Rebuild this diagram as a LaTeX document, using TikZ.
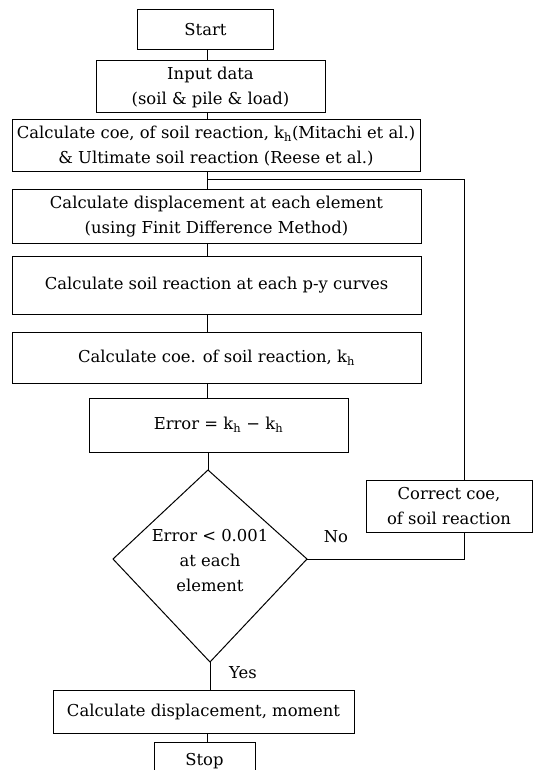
\documentclass[tikz,border=0pt]{standalone}
\usepackage{fontspec}
\setmainfont{DejaVu Serif}
\newcommand\fcfont{\fontsize{16.4}{25}\selectfont}
\begin{document}
\begin{tikzpicture}[x=1pt,y=-1pt,line width=1pt,
  box/.style={draw, align=center, inner sep=0pt, font=\fcfont},
  lbl/.style={inner sep=0pt, font=\fcfont}]
\useasboundingbox (0,0) rectangle (539,770);
% nodes
\node[box, minimum width=136pt, minimum height=40pt] (start) at (205.5,29.7) {Start};
\node[box, minimum width=229pt, minimum height=52pt] (input) at (210.5,87) {Input data\\(soil \& pile \& load)};
\node[box, minimum width=408pt, minimum height=52pt] (calc1) at (216,146) {Calculate coe, of soil reaction, k\textsubscript{h}(Mitachi et al.)\\\& Ultimate soil reaction (Reese et al.)};
\node[box, minimum width=409pt, minimum height=54pt] (disp) at (216.5,216.5) {Calculate displacement at each element\\(using Finit Difference Method)};
\node[box, minimum width=409pt, minimum height=58pt] (soil) at (216.5,285) {Calculate soil reaction at each p-y curves};
\node[box, minimum width=409pt, minimum height=51pt] (coe2) at (216.5,357.5) {Calculate coe. of soil reaction, k\textsubscript{h}};
\node[box, minimum width=259pt, minimum height=54pt] (err) at (218.5,425) {Error = k\textsubscript{h} − k\textsubscript{h}};
% decision diamond
\coordinate (dt) at (208,470);
\coordinate (dl) at (113,559);
\coordinate (dr) at (307,559);
\coordinate (db) at (210,662);
\draw (dt) -- (dr) -- (db) -- (dl) -- cycle;
\node[lbl, align=center] (dtext) at (210,561) {Error < 0.001\\at each\\element};
\node[box, minimum width=166pt, minimum height=52pt] (corr) at (449,506) {Correct coe,\\of soil reaction};
\node[box, minimum width=301pt, minimum height=43pt] (final) at (203.5,711.5) {Calculate displacement, moment};
\node[box, minimum width=101pt, minimum height=38pt] (stop) at (204.5,761) {Stop};
\node[lbl] (no) at (336,537) {No};
\node[lbl] (yes) at (243,673) {Yes};
% connectors
\coordinate (sp) at (207,0);
\coordinate (fb) at (464,179);
\coordinate (jn) at (207,179);
\draw (start.south -| sp) -- (input.north -| sp);
\draw (input.south -| sp) -- (calc1.north -| sp);
\draw (calc1.south -| sp) -- (disp.north -| sp);
\draw (disp.south -| sp) -- (soil.north -| sp);
\draw (soil.south -| sp) -- (coe2.north -| sp);
\draw (coe2.south -| sp) -- (err.north -| sp);
\draw (err.south -| dt) -- (dt);
\draw (db) -- (final.north -| db);
\draw (final.south -| sp) -- (stop.north -| sp);
\draw (dr) -| (corr.south -| fb);
\draw (corr.north -| fb) -- (fb) -- (jn);
\end{tikzpicture}
\end{document}
